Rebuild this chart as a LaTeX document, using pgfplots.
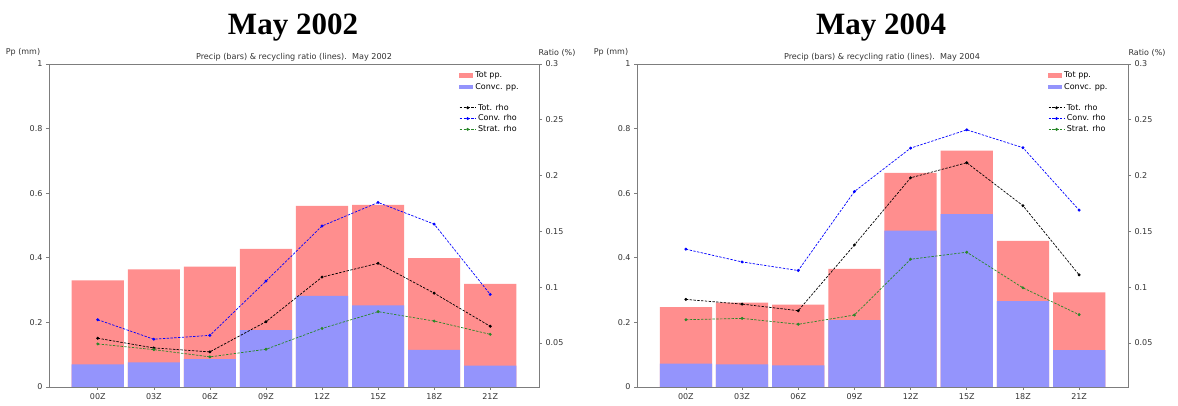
\documentclass[border=0pt]{standalone}
\usepackage{fontspec}
\setmainfont{DejaVu Sans}
\newfontfamily\titlefont{Liberation Serif}
\usepackage{pgfplots}
\pgfplotsset{compat=1.18}
\definecolor{totpp}{RGB}{255,142,142}
\definecolor{convpp}{RGB}{148,148,252}
\definecolor{stratc}{RGB}{40,135,40}
\definecolor{framec}{RGB}{125,125,125}

\pgfplotsset{
  base/.style={
    scale only axis, width=490pt, height=323pt,
    xmin=-0.87, xmax=7.87, anchor=south west,
    axis line style={framec, line width=0.6pt},
    tick style={framec, line width=0.6pt},
    major tick length=3pt, tick align=outside,
    ticklabel style={font=\fontsize{8}{9}\selectfont, text=black!80},
    /pgf/number format/assume math mode=true,
    clip=false,
  },
  leftax/.style={base,
    ymin=0, ymax=1, ytick={0,0.2,0.4,0.6,0.8,1},
    yticklabels={0,0.2,0.4,0.6,0.8,1},
    xtick={0,...,7}, xticklabels={00Z,03Z,06Z,09Z,12Z,15Z,18Z,21Z},
    xtick pos=bottom, ytick pos=left,
    legend style={at={(0.835,0.985)}, anchor=north west, draw=none, fill=none,
      font=\fontsize{8}{9}\selectfont, row sep=0pt, inner sep=1pt,
      legend cell align=left},
  },
  rightax/.style={base,
    ymin=0.0105, ymax=0.3, ytick={0.05,0.1,0.15,0.2,0.25,0.3},
    yticklabels={0.05,0.1,0.15,0.2,0.25,0.3},
    xtick=\empty, ytick pos=right,
    legend style={at={(0.835,0.886)}, anchor=north west, draw=none, fill=none,
      font=\fontsize{8}{9}\selectfont, row sep=-0.8pt, inner sep=1pt,
      legend cell align=left},
  },
  barsty/.style={ybar, bar shift=0pt, bar width=0.93, draw=none, fill=#1,
    legend image code/.code={\path[draw=none,fill=#1] (0pt,-2.3pt) rectangle (14pt,2.3pt);}},
  linesty/.style={color=#1, line width=0.7pt, dash pattern=on 2.4pt off 1.4pt,
    mark=*, mark size=1.1pt, mark options={solid, fill=#1},
    legend image code/.code={\draw[##1, mark repeat=2, mark phase=2] plot coordinates {(0pt,0pt) (8pt,0pt) (16pt,0pt)};}},
}

\begin{document}
\begin{tikzpicture}
\useasboundingbox (0,0) rectangle (1178pt,406pt);

% ---------------- Left panel: May 2002 ----------------
\node[anchor=base, font=\titlefont\bfseries\fontsize{31}{34}\selectfont] at (293pt,371pt) {May 2002};
\node[font=\fontsize{8.1}{9}\selectfont, text=black!80] at (294pt,349pt) {Precip (bars) \& recycling ratio (lines).\ \ May 2002};
\node[font=\fontsize{8}{9}\selectfont, text=black!80] at (23pt,354pt) {Pp (mm)};
\node[font=\fontsize{8}{9}\selectfont, text=black!80] at (557pt,353pt) {Ratio (\%)};

\begin{axis}[leftax, at={(49pt,19pt)}]
\addplot[barsty=totpp] coordinates {(0,0.330) (1,0.364) (2,0.373) (3,0.428) (4,0.561) (5,0.564) (6,0.399) (7,0.319)};
\addlegendentry{Tot pp.}
\addplot[barsty=convpp] coordinates {(0,0.070) (1,0.076) (2,0.086) (3,0.176) (4,0.282) (5,0.253) (6,0.115) (7,0.066)};
\addlegendentry{Convc. pp.}
\end{axis}

\begin{axis}[rightax, at={(49pt,19pt)}]
\addplot[linesty=black] coordinates {(0,0.0542) (1,0.0455) (2,0.0420) (3,0.0690) (4,0.1090) (5,0.1214) (6,0.0946) (7,0.0649)};
\addlegendentry{Tot. rho}
\addplot[linesty=blue] coordinates {(0,0.0708) (1,0.0533) (2,0.0568) (3,0.1054) (4,0.1548) (5,0.1759) (6,0.1565) (7,0.0935)};
\addlegendentry{Conv. rho}
\addplot[linesty=stratc] coordinates {(0,0.0491) (1,0.0440) (2,0.0375) (3,0.0443) (4,0.0630) (5,0.0780) (6,0.0696) (7,0.0577)};
\addlegendentry{Strat. rho}
\end{axis}

% ---------------- Right panel: May 2004 ----------------
\node[anchor=base, font=\titlefont\bfseries\fontsize{31}{34}\selectfont] at (881pt,371pt) {May 2004};
\node[font=\fontsize{8.1}{9}\selectfont, text=black!80] at (882pt,349pt) {Precip (bars) \& recycling ratio (lines).\ \ May 2004};
\node[font=\fontsize{8}{9}\selectfont, text=black!80] at (611pt,354pt) {Pp (mm)};
\node[font=\fontsize{8}{9}\selectfont, text=black!80] at (1147pt,353pt) {Ratio (\%)};

\begin{axis}[leftax, at={(637pt,19pt)}, width=491pt]
\addplot[barsty=totpp] coordinates {(0,0.247) (1,0.261) (2,0.255) (3,0.366) (4,0.663) (5,0.732) (6,0.452) (7,0.293)};
\addlegendentry{Tot pp.}
\addplot[barsty=convpp] coordinates {(0,0.072) (1,0.070) (2,0.067) (3,0.207) (4,0.484) (5,0.535) (6,0.266) (7,0.114)};
\addlegendentry{Convc. pp.}
\end{axis}

\begin{axis}[rightax, at={(637pt,19pt)}, width=491pt]
\addplot[linesty=black] coordinates {(0,0.0890) (1,0.0848) (2,0.0789) (3,0.1378) (4,0.1980) (5,0.2115) (6,0.1730) (7,0.1110)};
\addlegendentry{Tot. rho}
\addplot[linesty=blue] coordinates {(0,0.1340) (1,0.1226) (2,0.1149) (3,0.1857) (4,0.2246) (5,0.2410) (6,0.2250) (7,0.1690)};
\addlegendentry{Conv. rho}
\addplot[linesty=stratc] coordinates {(0,0.0708) (1,0.0720) (2,0.0667) (3,0.0750) (4,0.1250) (5,0.1313) (6,0.0994) (7,0.0753)};
\addlegendentry{Strat. rho}
\end{axis}
\end{tikzpicture}
\end{document}
